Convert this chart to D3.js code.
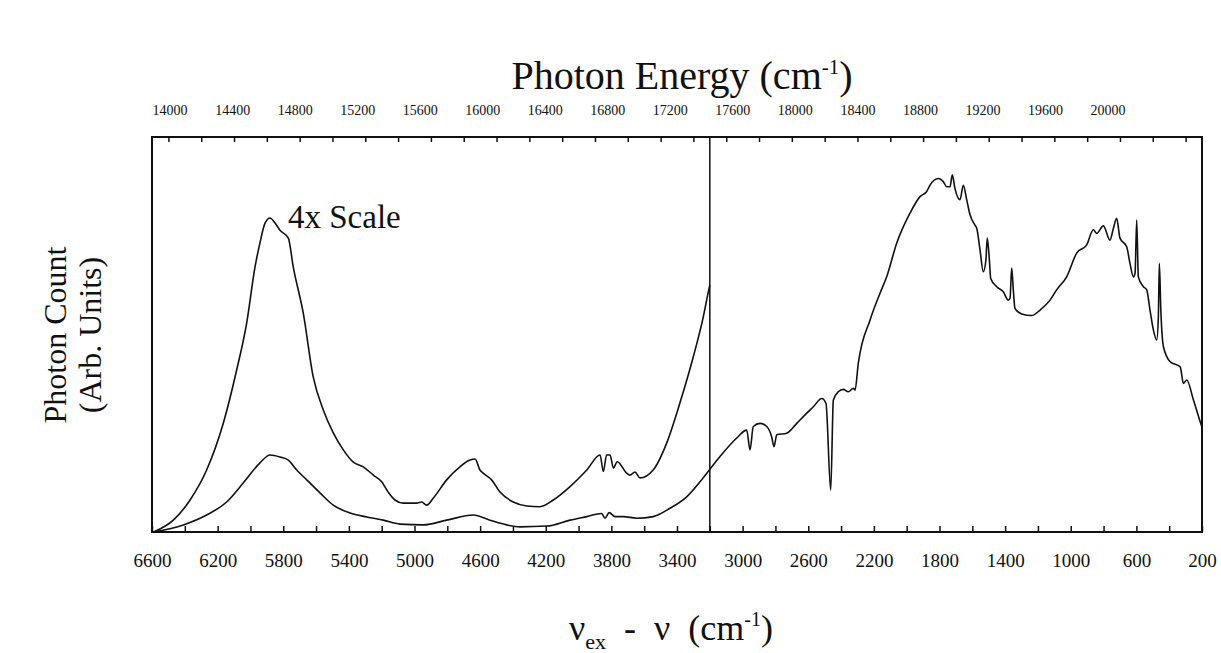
<!DOCTYPE html>
<html>
<head>
<meta charset="utf-8">
<script src="https://cdn.jsdelivr.net/npm/d3@7"></script>
<style>
  body { margin: 0; background: #fff; }
  text { font-family: 'Liberation Serif', 'Times New Roman', serif; fill: #111; }
</style>
</head>
<body>
<div id="container"></div>
<script>
const w = 1221,
  h = 653;

// bottom axis: Raman shift (cm-1), ticks every 200, labels every 400
const shiftTicks = d3.range(6600, 199, -200);
const shiftLabels = [6600, 6200, 5800, 5400, 5000, 4600, 4200, 3800, 3400, 3000, 2600, 2200, 1800, 1400, 1000, 600, 200];
// little marks along the top frame (sit halfway between the bottom ticks)
const topMarks = d3.range(6500, 299, -200);
// top axis: photon energy labels
const energyLabels = [14000, 14400, 14800, 15200, 15600, 16000, 16400, 16800, 17200, 17600, 18000, 18400, 18800, 19200, 19600, 20000];

// where the two panels are joined
const splitShift = 3200;

// 4x scaled spectrum, left panel only  [shift, counts]
const scaled4x = [
  [6590, 0], [6470, 3.0], [6368, 8.1], [6267, 15.7], [6165, 27.6], [6084, 41.0],
  [6023, 52.9], [5972, 67.1], [5942, 73.2], [5911, 78.2], [5881, 79.5], [5850, 78.2],
  [5820, 76.4], [5769, 74.4], [5739, 67.1], [5678, 55.4], [5617, 39.2], [5556, 30.9],
  [5495, 25.1], [5434, 20.8], [5373, 17.7], [5312, 16.5], [5251, 14.4], [5200, 12.7],
  [5160, 10.1], [5119, 8.1], [5068, 7.3], [4987, 7.3], [4956, 7.6], [4926, 6.8],
  [4885, 8.6], [4804, 13.2], [4723, 16.5], [4662, 18.2], [4631, 18.5], [4601, 15.7],
  [4581, 14.9], [4530, 13.2], [4479, 10.1], [4398, 7.6], [4316, 6.6], [4235, 6.4],
  [4154, 8.1], [4052, 11.5], [3950, 15.7], [3869, 19.5], [3849, 15.3], [3829, 19.5],
  [3808, 19.5], [3788, 16.2], [3764, 17.8], [3707, 14.9], [3687, 14.4], [3656, 15.2],
  [3626, 13.7], [3545, 15.7], [3463, 22.5], [3382, 32.7], [3301, 44.3], [3240, 54.4],
  [3209, 60.8], [3200, 62.5]
];

// 1x spectrum across the full range  [shift, counts]
const spectrum = [
  [6590, 0], [6409, 1.8], [6267, 4.3], [6145, 7.6], [6044, 12.4], [5942, 17.5],
  [5881, 19.5], [5820, 19.0], [5769, 18.2], [5718, 15.7], [5657, 13.2], [5576, 9.9],
  [5495, 6.8], [5393, 4.8], [5291, 3.8], [5190, 3.0], [5088, 2.0], [4946, 1.8],
  [4804, 3.0], [4642, 4.3], [4540, 3.0], [4438, 1.8], [4357, 1.3], [4194, 1.5],
  [4052, 3.0], [3950, 3.9], [3859, 4.7], [3839, 3.5], [3813, 4.9], [3778, 3.9],
  [3727, 3.9], [3646, 3.5], [3545, 3.9], [3443, 6.0], [3341, 8.9], [3260, 12.7],
  [3203, 15.7], [3138, 19.1], [3036, 23.8], [2975, 25.8], [2955, 20.8], [2935, 26.7],
  [2894, 27.5], [2853, 26.7], [2823, 24.1], [2809, 21.6], [2792, 24.6], [2731, 25.0],
  [2670, 27.5], [2609, 30.1], [2569, 31.7], [2518, 33.8], [2492, 32.6], [2463, 10.6],
  [2447, 33.4], [2417, 35.5], [2386, 36.1], [2356, 35.5], [2325, 36.4], [2315, 35.9],
  [2295, 42.7], [2223, 53.7], [2163, 60.4], [2122, 64.6], [2061, 73.1], [1980, 80.7],
  [1919, 84.9], [1878, 86.2], [1858, 87.8], [1807, 89.5], [1777, 88.7], [1756, 87.4],
  [1736, 87.4], [1722, 90.4], [1706, 87.0], [1675, 84.1], [1655, 87.8], [1634, 84.1],
  [1614, 80.3], [1584, 77.7], [1573, 76.9], [1553, 71.4], [1533, 65.9], [1517, 68.9],
  [1509, 74.4], [1496, 68.9], [1488, 64.2], [1451, 62.1], [1411, 60.8], [1381, 58.7],
  [1370, 59.2], [1360, 66.8], [1350, 61.3], [1340, 56.6], [1299, 55.2], [1238, 54.8],
  [1187, 56.2], [1126, 58.7], [1086, 61.3], [1025, 64.6], [964, 70.6], [903, 72.7],
  [862, 76.5], [842, 75.6], [801, 77.5], [761, 73.9], [740, 76.9], [720, 79.4],
  [700, 74.4], [659, 72.2], [639, 68.0], [618, 64.6], [608, 65.5], [598, 79.0],
  [588, 64.6], [557, 62.1], [537, 61.3], [517, 56.2], [496, 51.1], [476, 48.6],
  [466, 54.5], [460, 68.0], [451, 56.2], [435, 46.9], [394, 43.1], [333, 41.8],
  [313, 37.6], [293, 38.5], [252, 33.4], [211, 27.9], [200, 26.5]
];

const plotLeft = 152,
  plotRight = 1202,
  plotTop = 137,
  plotBottom = 532;

const svg = d3.select('#container').append('svg').attr('width', w).attr('height', h);

const xScale = d3.scaleLinear().domain([6600, 200]).range([plotLeft, plotRight]);
const yScale = d3.scaleLinear().domain([0, 100]).range([plotBottom, plotTop]);
const energyScale = d3.scaleLinear().domain([14000, 20000]).range([169.6, 1107.5]);

// frame
svg
  .append('rect')
  .attr('x', plotLeft)
  .attr('y', plotTop)
  .attr('width', plotRight - plotLeft)
  .attr('height', plotBottom - plotTop)
  .attr('fill', 'none')
  .attr('stroke', '#111')
  .attr('stroke-width', 2);

// bottom ticks + labels
const xAxis = d3
  .axisBottom(xScale)
  .tickValues(shiftTicks)
  .tickSizeInner(-6)
  .tickSizeOuter(0)
  .tickPadding(22)
  .tickFormat((d) => (shiftLabels.includes(d) ? d : ''));

svg
  .append('g')
  .attr('id', 'x-axis')
  .attr('transform', 'translate(0,' + plotBottom + ')')
  .call(xAxis)
  .call((g) => g.select('.domain').remove())
  .call((g) => g.selectAll('line').attr('stroke', '#111').attr('stroke-width', 1.5))
  .call((g) => g.selectAll('text').style('font-size', '19px'));

// marks along the top frame
svg
  .append('g')
  .attr('transform', 'translate(0,' + plotTop + ')')
  .call(d3.axisTop(xScale).tickValues(topMarks).tickSizeInner(-5).tickSizeOuter(0).tickFormat(''))
  .call((g) => g.select('.domain').remove())
  .call((g) => g.selectAll('line').attr('stroke', '#111').attr('stroke-width', 1.5));

// top energy labels
svg
  .append('g')
  .attr('id', 'top-axis')
  .attr('transform', 'translate(0,' + plotTop + ')')
  .call(d3.axisTop(energyScale).tickValues(energyLabels).tickSize(0).tickPadding(22).tickFormat(d3.format('d')))
  .call((g) => g.select('.domain').remove())
  .call((g) => g.selectAll('text').style('font-size', '14px'));

// panel divider
svg
  .append('line')
  .attr('x1', xScale(splitShift))
  .attr('x2', xScale(splitShift))
  .attr('y1', plotTop)
  .attr('y2', plotBottom)
  .attr('stroke', '#111')
  .attr('stroke-width', 1.5);

const line = d3
  .line()
  .curve(d3.curveMonotoneX)
  .x((d) => xScale(d[0]))
  .y((d) => yScale(d[1]));

svg
  .append('path')
  .datum(scaled4x)
  .attr('d', line)
  .attr('fill', 'none')
  .attr('stroke', '#111')
  .attr('stroke-width', 1.6);

svg
  .append('path')
  .datum(spectrum)
  .attr('d', line)
  .attr('fill', 'none')
  .attr('stroke', '#111')
  .attr('stroke-width', 1.6);

// annotation
svg
  .append('text')
  .text('4x Scale')
  .attr('x', 288)
  .attr('y', 228)
  .style('font-size', '33px');

// titles
const title = svg
  .append('text')
  .attr('x', 682)
  .attr('y', 89)
  .attr('text-anchor', 'middle')
  .style('font-size', '40px');
title.append('tspan').text('Photon Energy (cm');
title.append('tspan').text('-1').attr('dy', -15).style('font-size', '21px');
title.append('tspan').text(')').attr('dy', 15);

const xTitle = svg
  .append('text')
  .attr('x', 671)
  .attr('y', 640)
  .attr('text-anchor', 'middle')
  .style('font-size', '36px')
  .style('white-space', 'pre');
xTitle.append('tspan').text('ν');
xTitle.append('tspan').text('ex').attr('dy', 9).style('font-size', '22px');
xTitle.append('tspan').text('  -  ν  (cm').attr('dy', -9);
xTitle.append('tspan').text('-1').attr('dy', -14).style('font-size', '20px');
xTitle.append('tspan').text(')').attr('dy', 14);

svg
  .append('text')
  .text('Photon Count')
  .attr('text-anchor', 'middle')
  .attr('transform', 'translate(66,335) rotate(-90)')
  .style('font-size', '32px');

svg
  .append('text')
  .text('(Arb. Units)')
  .attr('text-anchor', 'middle')
  .attr('transform', 'translate(101,335) rotate(-90)')
  .style('font-size', '32px');
</script>
</body>
</html>
